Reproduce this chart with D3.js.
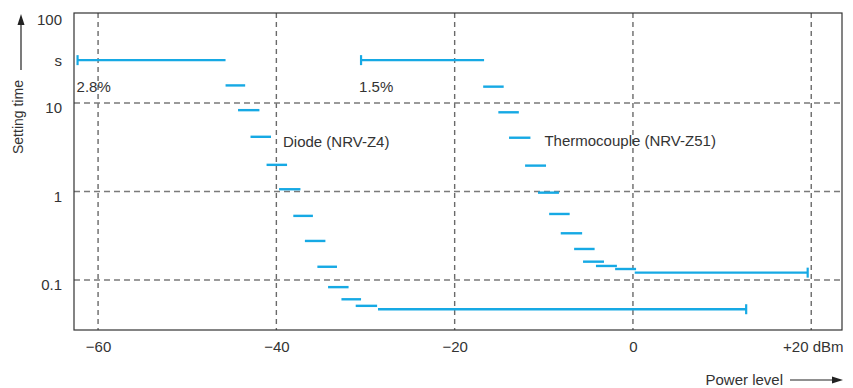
<!DOCTYPE html>
<html>
<head>
<meta charset="utf-8">
<style>
body { margin:0; background:#fff; }
text { font-family:"Liberation Sans", Arial, sans-serif; fill:#333; }
</style>
</head>
<body>
<svg id="plot"></svg>
<script src="https://d3js.org/d3.v7.min.js"></script>
<script>

// Diode sensor (NRV-Z4): each step runs from start to end dBm at a setting time (s)
var diodeStart = [-62.3, -45.7, -44.3, -42.9, -41.1, -39.7, -38.1, -36.8, -35.4, -34.2, -32.7, -31.1, -28.6];
var diodeEnd   = [-45.7, -43.5, -41.9, -40.6, -38.8, -37.3, -35.9, -34.5, -33.2, -31.9, -30.5, -28.7, 12.7];
var diodeTime  = [30.5, 15.8, 8.3, 4.15, 2.0, 1.06, 0.53, 0.276, 0.141, 0.083, 0.0605, 0.051, 0.0467];

// Thermocouple sensor (NRV-Z51)
var thermoStart = [-30.5, -16.8, -15.1, -13.9, -12.1, -10.65, -9.4, -8.1, -6.6, -5.6, -4.15, -2.0, 0.2];
var thermoEnd   = [-16.7, -14.5, -12.8, -11.5, -9.75, -8.3, -7.1, -5.7, -4.3, -3.25, -1.8, 0.35, 19.6];
var thermoTime  = [30.5, 15.3, 7.85, 4.05, 1.96, 0.97, 0.557, 0.337, 0.224, 0.161, 0.144, 0.133, 0.121];

var xTicks = [-60, -40, -20, 0, 20];
var yTicks = [0.1, 1, 10, 100];
var yGrid = [0.1, 1, 10];

var blue = "#16a9e4";

var screen = {width:853, height:388};
var box = {left:74, top:13, right:842, bottom:330};

var svg = d3.select("#plot")
    .attr("width", screen.width)
    .attr("height", screen.height);

var xScale = d3.scaleLinear()
    .domain([-62.7, 23.45])
    .range([box.left, box.right]);

var yScale = d3.scaleLog()
    .domain([0.0272, 104])
    .range([box.bottom, box.top]);

// grid
svg.append("g").selectAll("line")
    .data(xTicks)
    .enter().append("line")
    .attr("x1", function(d){ return xScale(d); })
    .attr("x2", function(d){ return xScale(d); })
    .attr("y1", box.top)
    .attr("y2", box.bottom)
    .attr("stroke", "#6a6a6a")
    .attr("stroke-width", 1.4)
    .attr("stroke-dasharray", "5,4");

svg.append("g").selectAll("line")
    .data(yGrid)
    .enter().append("line")
    .attr("x1", box.left)
    .attr("x2", box.right)
    .attr("y1", function(d){ return yScale(d); })
    .attr("y2", function(d){ return yScale(d); })
    .attr("stroke", "#7a7a7a")
    .attr("stroke-width", 1.4)
    .attr("stroke-dasharray", "6,4");

svg.append("rect")
    .attr("x", box.left)
    .attr("y", box.top)
    .attr("width", box.right - box.left)
    .attr("height", box.bottom - box.top)
    .attr("fill", "none")
    .attr("stroke", "#333")
    .attr("stroke-width", 1.2);

// steps, with an end cap on the first step (left) and on the last step (right)
var drawSteps = function(starts, ends, times)
{
    var steps = starts.map(function(s, i){ return {start:s, end:ends[i], time:times[i]}; });
    var g = svg.append("g");

    g.selectAll(".step")
        .data(steps)
        .enter().append("line")
        .classed("step", true)
        .attr("x1", function(d){ return xScale(d.start); })
        .attr("x2", function(d){ return xScale(d.end); })
        .attr("y1", function(d){ return yScale(d.time); })
        .attr("y2", function(d){ return yScale(d.time); })
        .attr("stroke", blue)
        .attr("stroke-width", 2.4);

    var first = steps[0];
    var last = steps[steps.length - 1];
    var caps = [
        {x:xScale(first.start), y:yScale(first.time)},
        {x:xScale(last.end), y:yScale(last.time)}
    ];

    g.selectAll(".cap")
        .data(caps)
        .enter().append("line")
        .classed("cap", true)
        .attr("x1", function(d){ return d.x; })
        .attr("x2", function(d){ return d.x; })
        .attr("y1", function(d){ return d.y - 5; })
        .attr("y2", function(d){ return d.y + 5; })
        .attr("stroke", blue)
        .attr("stroke-width", 2.2);
}

drawSteps(diodeStart, diodeEnd, diodeTime);
drawSteps(thermoStart, thermoEnd, thermoTime);

// axes
var xAxis = d3.axisBottom(xScale)
    .tickValues(xTicks)
    .tickSize(0)
    .tickPadding(11)
    .tickFormat(function(d){
        if (d < 0) return "\u2212" + Math.abs(d);
        if (d > 0) return "+" + d + " dBm";
        return "0";
    });

var gx = svg.append("g")
    .attr("transform", "translate(0," + box.bottom + ")")
    .call(xAxis);
gx.select(".domain").remove();
gx.selectAll("text")
    .style("font-size", "15px")
    .style("font-family", "'Liberation Sans', Arial, sans-serif")
    .attr("fill", "#333");
gx.selectAll(".tick")
    .filter(function(d){ return d == 20; })
    .select("text")
    .attr("text-anchor", "end")
    .attr("x", box.right - xScale(20) + 1);

var yAxis = d3.axisLeft(yScale)
    .tickValues(yTicks)
    .tickSize(0)
    .tickPadding(12)
    .tickFormat(function(d){ return d < 1 ? d3.format(".1f")(d) : d3.format("d")(d); });

var gy = svg.append("g")
    .attr("transform", "translate(" + box.left + ",0)")
    .call(yAxis);
gy.select(".domain").remove();
gy.selectAll("text")
    .style("font-size", "15px")
    .style("font-family", "'Liberation Sans', Arial, sans-serif")
    .attr("fill", "#333")
    .attr("dy", "0.65em");

// unit
svg.append("text")
    .text("s")
    .attr("x", box.left - 12)
    .attr("y", yScale(30) + 5)
    .attr("text-anchor", "end")
    .style("font-size", "15px");

// annotations
var labels = svg.append("g").style("font-size", "15px");

labels.append("text")
    .text("2.8%")
    .attr("x", xScale(diodeStart[0]) - 1)
    .attr("y", yScale(diodeTime[0]) + 32);

labels.append("text")
    .text("1.5%")
    .attr("x", xScale(thermoStart[0]) - 2)
    .attr("y", yScale(thermoTime[0]) + 32);

labels.append("text")
    .text("Diode (NRV-Z4)")
    .attr("x", xScale(diodeEnd[3]) + 12)
    .attr("y", yScale(diodeTime[3]) + 10);

labels.append("text")
    .text("Thermocouple (NRV-Z51)")
    .attr("x", xScale(thermoEnd[3]) + 14)
    .attr("y", yScale(thermoTime[3]) + 8);

// axis titles with arrows
svg.append("text")
    .text("Power level")
    .attr("x", 783)
    .attr("y", 385)
    .attr("text-anchor", "end")
    .style("font-size", "15px");

svg.append("line")
    .attr("x1", 790).attr("x2", 834)
    .attr("y1", 380).attr("y2", 380)
    .attr("stroke", "#222").attr("stroke-width", 1.2);
svg.append("polygon")
    .attr("points", "843,380 832,376.5 832,383.5")
    .attr("fill", "#222");

svg.append("text")
    .text("Setting time")
    .attr("transform", "translate(23,154) rotate(-90)")
    .style("font-size", "14px");

svg.append("line")
    .attr("x1", 21).attr("x2", 21)
    .attr("y1", 70).attr("y2", 23)
    .attr("stroke", "#222").attr("stroke-width", 1.2);
svg.append("polygon")
    .attr("points", "21,14 17.5,25 24.5,25")
    .attr("fill", "#222");

</script>
</body>
</html>
